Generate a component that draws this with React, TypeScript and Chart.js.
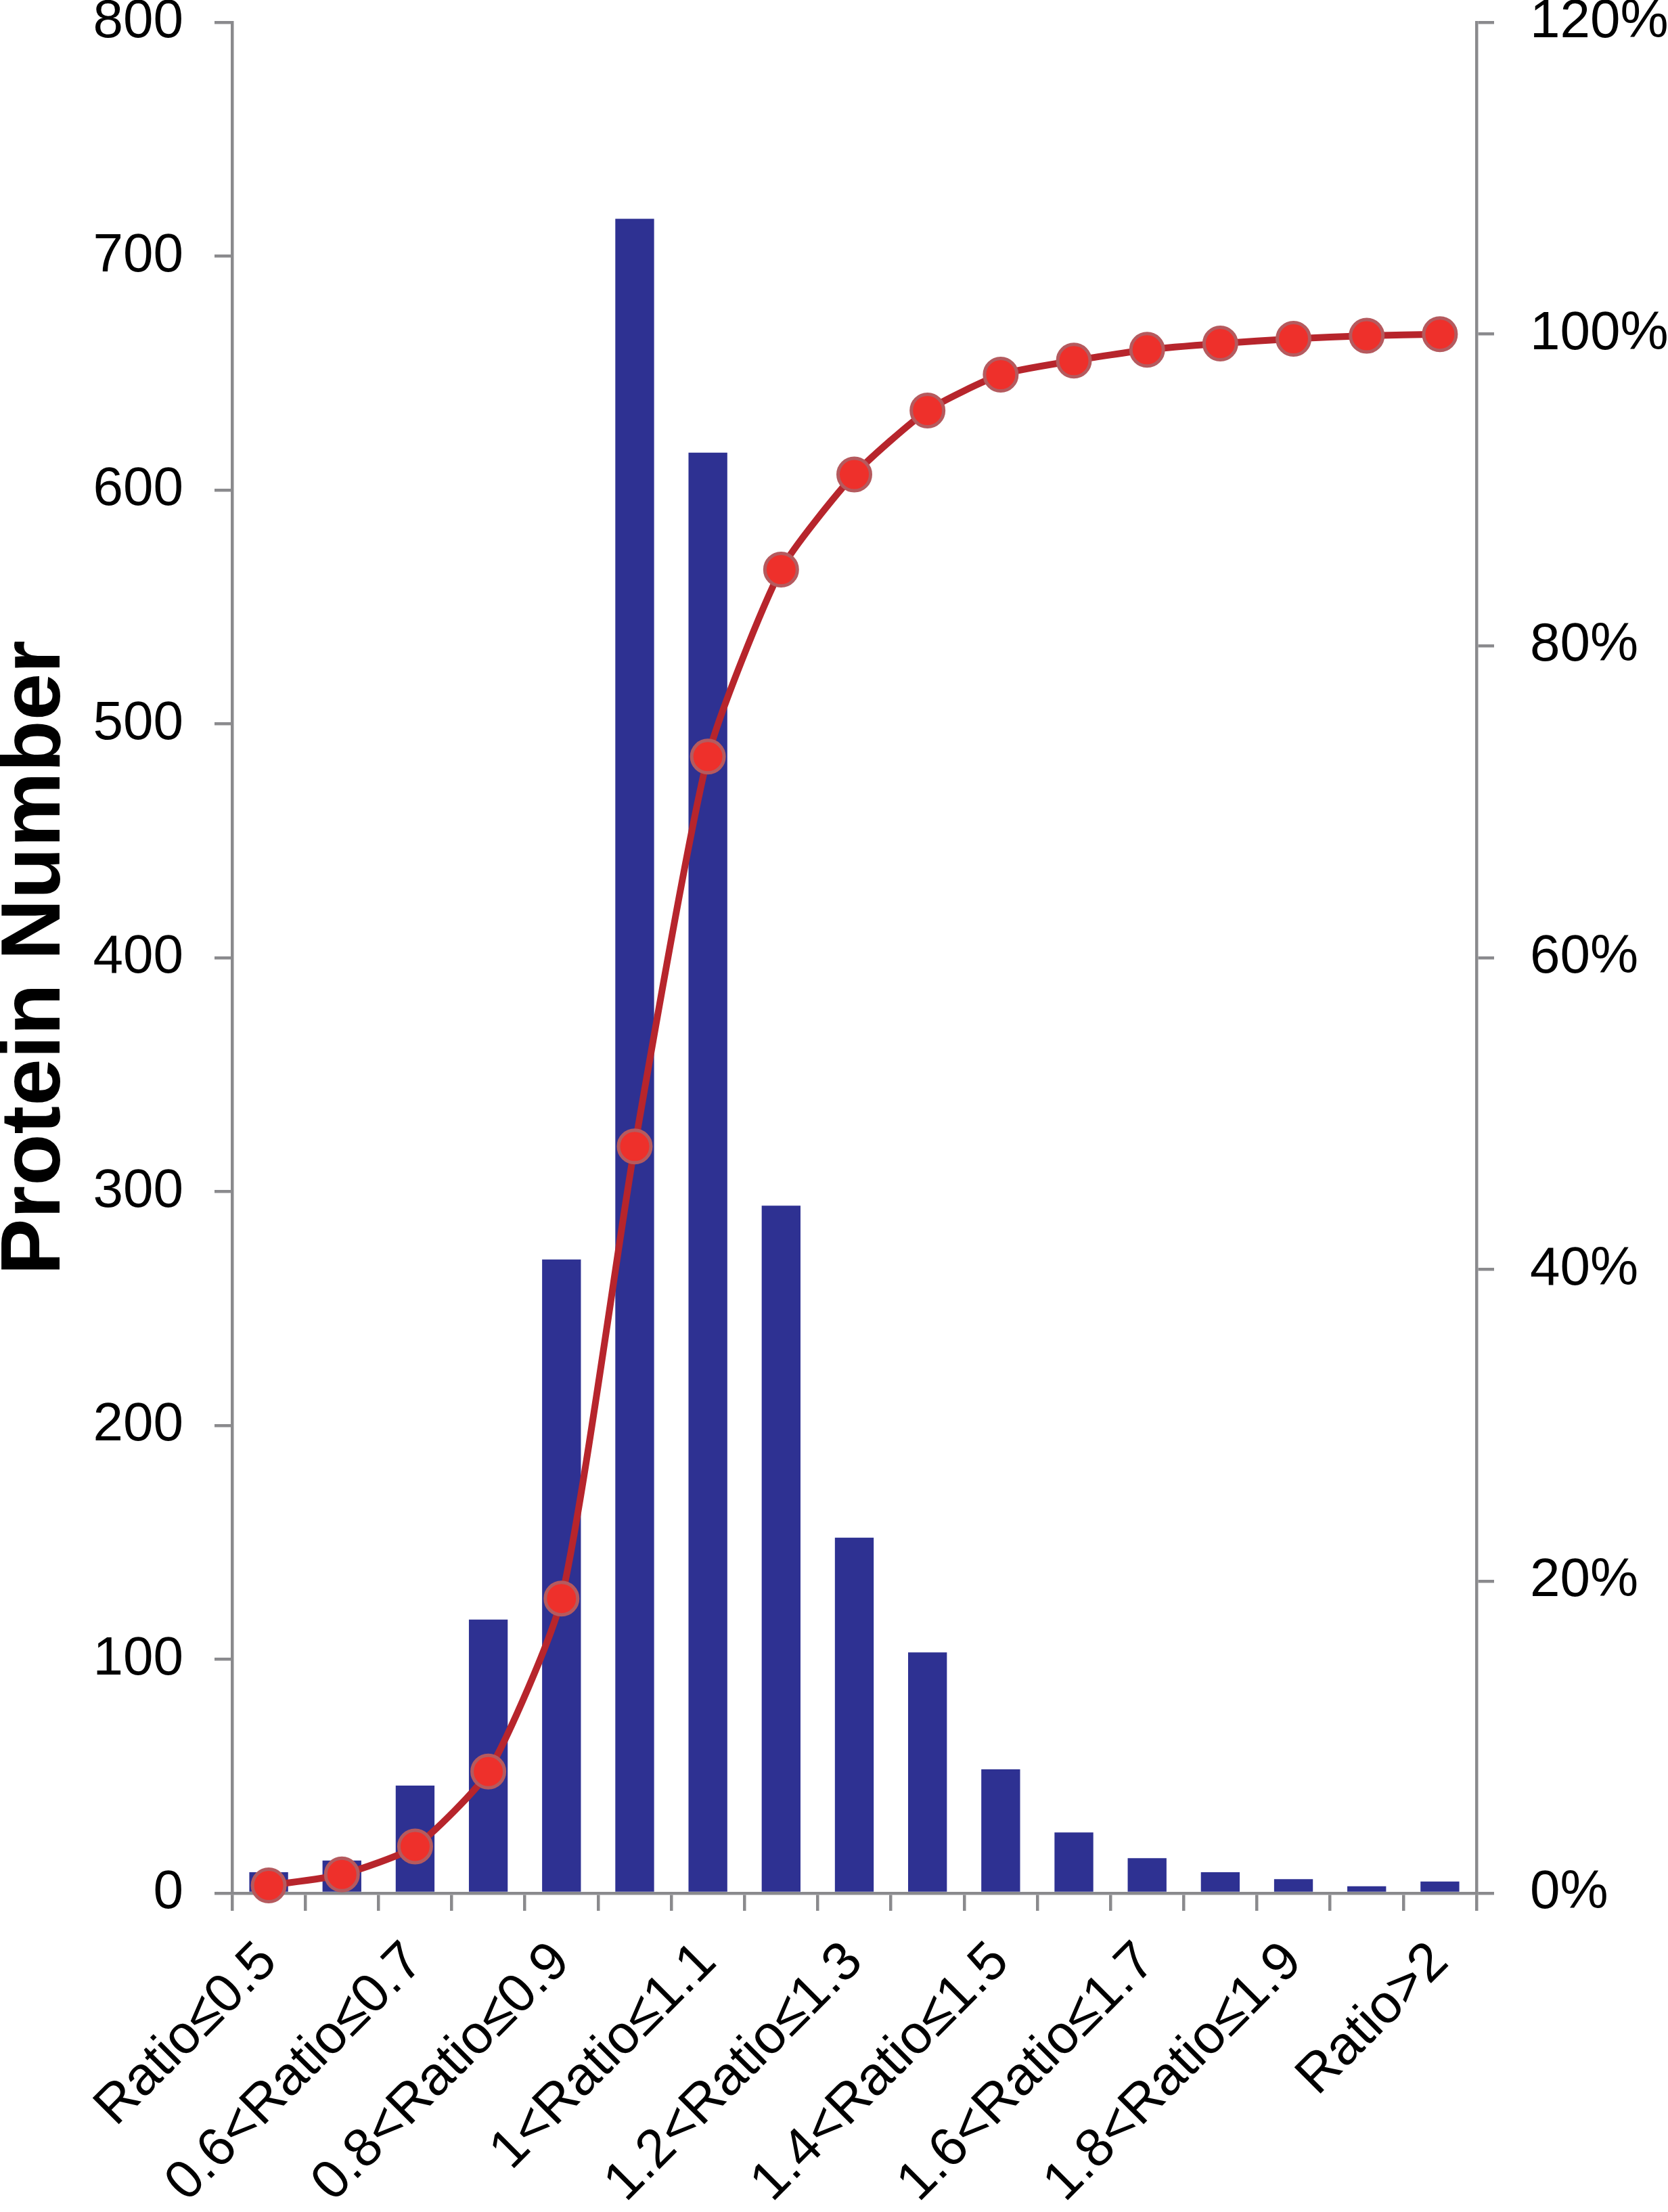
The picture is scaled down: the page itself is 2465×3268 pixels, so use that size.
import { useEffect, useRef } from "react";
import { Chart, registerables } from "chart.js";

Chart.register(...registerables);

const CATEGORIES = [
  "Ratio≤0.5",
  "0.5<Ratio≤0.6",
  "0.6<Ratio≤0.7",
  "0.7<Ratio≤0.8",
  "0.8<Ratio≤0.9",
  "0.9<Ratio≤1",
  "1<Ratio≤1.1",
  "1.1<Ratio≤1.2",
  "1.2<Ratio≤1.3",
  "1.3<Ratio≤1.4",
  "1.4<Ratio≤1.5",
  "1.5<Ratio≤1.6",
  "1.6<Ratio≤1.7",
  "1.7<Ratio≤1.8",
  "1.8<Ratio≤1.9",
  "1.9<Ratio≤2",
  "Ratio>2",
];

// protein counts per ratio bin (left axis)
const PROTEIN_COUNTS = [9, 14, 46, 117, 271, 716, 616, 294, 152, 103, 53, 26, 15, 9, 6, 3, 5];

// cumulative percentage (right axis)
const CUMULATIVE_PCT = [
  0.5, 1.2, 3.0, 7.8, 18.9, 47.9, 72.9, 84.9, 91.0, 95.1, 97.4, 98.3, 99.0, 99.4, 99.7, 99.9, 100,
];

const LEFT_TICKS = [0, 100, 200, 300, 400, 500, 600, 700, 800];
const RIGHT_TICKS = [0, 20, 40, 60, 80, 100, 120];

const AXIS_GRAY = "#8a8a8d";
const FONT = "'Liberation Sans', Arial, Helvetica, sans-serif";

export default function App() {
  const canvasRef = useRef<HTMLCanvasElement>(null);
  const chartRef = useRef<Chart | null>(null);

  useEffect(() => {
    if (!canvasRef.current) return;
    chartRef.current?.destroy();

    const tickFont = { family: FONT, size: 80, lineHeight: 0.8 };
    const axisGrid = {
      display: true,
      drawOnChartArea: false,
      drawTicks: true,
      tickLength: 26,
      lineWidth: 4.5,
      color: AXIS_GRAY,
    };
    const axisBorder = { display: true, width: 4.5, color: AXIS_GRAY };

    chartRef.current = new Chart(canvasRef.current, {
      type: "bar",
      data: {
        labels: CATEGORIES,
        datasets: [
          {
            type: "line",
            label: "Cumulative",
            data: CUMULATIVE_PCT,
            yAxisID: "y2",
            order: 0,
            borderColor: "#b7252c",
            borderWidth: 10,
            tension: 0.2,
            pointRadius: 24,
            pointBorderWidth: 5,
            pointBackgroundColor: "#ee302b",
            pointBorderColor: "#b55a5e",
            clip: false,
          } as any,
          {
            type: "bar",
            label: "Protein Number",
            data: PROTEIN_COUNTS,
            yAxisID: "y1",
            order: 1,
            backgroundColor: "#2e3192",
            barPercentage: 0.53,
            categoryPercentage: 1.0,
          },
        ],
      },
      options: {
        responsive: true,
        maintainAspectRatio: false,
        animation: false,
        layout: { padding: { top: 33, left: 0, right: 0, bottom: 0 } },
        plugins: {
          legend: { display: false },
          tooltip: { enabled: false },
        },
        scales: {
          x: {
            offset: true,
            grid: { ...axisGrid, offset: true },
            border: axisBorder,
            ticks: {
              autoSkip: false,
              minRotation: 45,
              maxRotation: 45,
              padding: 40,
              color: "#000",
              font: tickFont,
              callback: (_v: any, i: number) => (i % 2 === 0 ? CATEGORIES[i] : ""),
            },
            afterFit: (scale: any) => {
              scale.height = 471;
              scale.paddingLeft = 0;
              scale.paddingRight = 0;
            },
          },
          y1: {
            position: "left",
            min: 0,
            max: 800,
            afterBuildTicks: (scale: any) => {
              scale.ticks = LEFT_TICKS.map((v) => ({ value: v }));
            },
            grid: axisGrid,
            border: axisBorder,
            ticks: { padding: 46, color: "#000", font: tickFont },
            title: {
              display: true,
              text: "Protein Number",
              color: "#000",
              padding: 0,
              font: { family: FONT, size: 125, weight: "bold", lineHeight: 0.85 },
            },
            afterFit: (scale: any) => {
              scale.width = 343;
              scale.paddingTop = 0;
              scale.paddingBottom = 0;
            },
          },
          y2: {
            position: "right",
            min: 0,
            max: 120,
            afterBuildTicks: (scale: any) => {
              scale.ticks = RIGHT_TICKS.map((v) => ({ value: v }));
            },
            grid: axisGrid,
            border: axisBorder,
            ticks: {
              padding: 53,
              color: "#000",
              font: tickFont,
              callback: (v: any) => `${v}%`,
            },
            afterFit: (scale: any) => {
              scale.width = 283;
              scale.paddingTop = 0;
              scale.paddingBottom = 0;
            },
          },
        },
      },
    });

    return () => {
      chartRef.current?.destroy();
      chartRef.current = null;
    };
  }, []);

  return (
    <div
      style={{
        position: "absolute",
        left: 0,
        top: 0,
        width: "2465px",
        height: "3268px",
        background: "#fff",
      }}
    >
      <canvas ref={canvasRef} />
    </div>
  );
}
